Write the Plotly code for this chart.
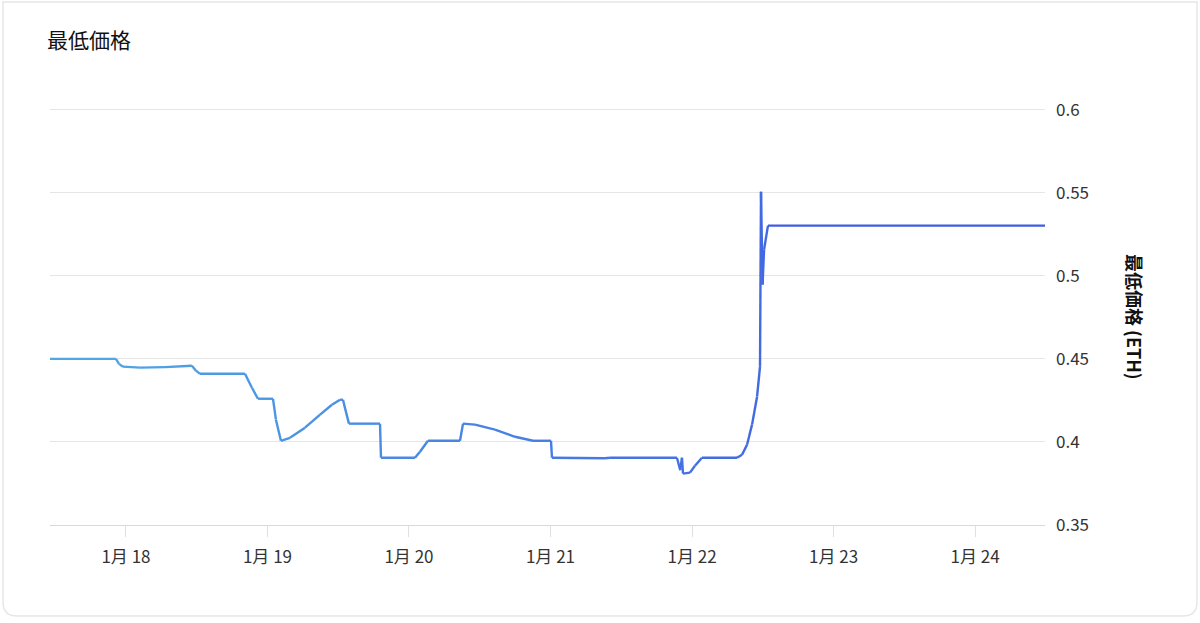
import plotly.graph_objects as go
import pandas as pd

# floor price readings (ETH)
times = [
    "2022-01-17 11:07", "2022-01-17 22:18", "2022-01-17 22:49", "2022-01-17 23:29",
    "2022-01-18 02:22", "2022-01-18 06:37", "2022-01-18 11:11", "2022-01-18 11:52",
    "2022-01-18 12:33", "2022-01-18 20:11", "2022-01-18 21:22", "2022-01-18 22:23",
    "2022-01-19 00:56", "2022-01-19 01:26", "2022-01-19 02:17", "2022-01-19 03:49",
    "2022-01-19 06:22", "2022-01-19 08:55", "2022-01-19 10:56", "2022-01-19 12:18",
    "2022-01-19 12:48", "2022-01-19 13:49", "2022-01-19 19:05", "2022-01-19 19:15",
    "2022-01-20 01:01", "2022-01-20 01:52", "2022-01-20 03:13", "2022-01-20 08:39",
    "2022-01-20 09:10", "2022-01-20 11:12", "2022-01-20 14:35", "2022-01-20 17:59",
    "2022-01-20 21:02", "2022-01-21 00:05", "2022-01-21 00:15", "2022-01-21 09:15",
    "2022-01-21 10:05", "2022-01-21 21:27", "2022-01-21 22:00", "2022-01-21 22:18",
    "2022-01-21 22:28", "2022-01-21 23:40", "2022-01-22 00:30", "2022-01-22 01:41",
    "2022-01-22 07:38", "2022-01-22 08:29", "2022-01-22 09:20", "2022-01-22 10:11",
    "2022-01-22 11:02", "2022-01-22 11:32", "2022-01-22 11:42", "2022-01-22 11:58",
    "2022-01-22 12:13", "2022-01-22 12:53", "2022-01-24 11:52",
]
prices = [
    0.450, 0.450, 0.447, 0.4453,
    0.4447, 0.4450, 0.4459, 0.4429,
    0.441, 0.441, 0.4326, 0.426,
    0.426, 0.4134, 0.4007, 0.4025,
    0.4086, 0.4164, 0.4224, 0.4254,
    0.4254, 0.411, 0.411, 0.3905,
    0.3905, 0.3941, 0.4007, 0.4007,
    0.411, 0.4104, 0.4074, 0.4031,
    0.4007, 0.4007, 0.3905, 0.3902,
    0.3905, 0.3905, 0.383, 0.3905,
    0.3809, 0.3815, 0.3857, 0.3905,
    0.3905, 0.3923, 0.3983, 0.4104,
    0.4272, 0.4453, 0.5506, 0.4947,
    0.5157, 0.5302, 0.5302,
]
x_range = ["2022-01-17 11:07", "2022-01-24 11:52"]
y_range = [0.35, 0.601]
y_ticks = [0.35, 0.4, 0.45, 0.5, 0.55, 0.6]

FONT = "Noto Sans CJK JP"
left_rgb = (80, 170, 228)
right_rgb = (61, 80, 224)

df = pd.DataFrame({"t": pd.to_datetime(times), "p": prices})
t0 = pd.Timestamp(x_range[0])
t1 = pd.Timestamp(x_range[1])

fig = go.Figure()

# gradient line: one short trace per segment, coloured by position along x
for i in range(len(df) - 1):
    mid = df.t[i] + (df.t[i + 1] - df.t[i]) / 2
    f = (mid - t0) / (t1 - t0)
    c = tuple(round(a + (b - a) * f) for a, b in zip(left_rgb, right_rgb))
    fig.add_trace(go.Scatter(
        x=df.t[i:i + 2],
        y=df.p[i:i + 2],
        mode="lines",
        line=dict(color="rgb(%d,%d,%d)" % c, width=2.4),
        showlegend=False,
        hoverinfo="skip",
    ))

# plot area in screen pixels
L, R, T, B = 50, 1045, 108, 525


def px(x):
    return (x - L) / (R - L)


def py(y):
    return (B - y) / (B - T)


# card outline, rounded at the bottom only
r = 14
card = "M %f,%f L %f,%f Q %f,%f %f,%f L %f,%f Q %f,%f %f,%f L %f,%f Z" % (
    px(3), py(2), px(3), py(616 - r),
    px(3), py(616), px(3 + r), py(616),
    px(1197 - r), py(616),
    px(1197), py(616), px(1197), py(616 - r),
    px(1197), py(2),
)

fig.update_layout(
    width=1200,
    height=623,
    margin=dict(l=L, r=1200 - R, t=T, b=623 - B),
    plot_bgcolor="white",
    paper_bgcolor="white",
    font=dict(family=FONT, color="#333333", size=16),
    title=dict(
        text="最低価格",
        xref="container", yref="container",
        x=47 / 1200, xanchor="left",
        y=1 - 41 / 623, yanchor="middle",
        font=dict(family=FONT, size=21, color="#111111"),
    ),
    xaxis=dict(
        type="date",
        range=x_range,
        tick0="2022-01-18",
        dtick=86400000,
        tickformat="%-m月 %d",
        showgrid=False,
        zeroline=False,
        showline=True,
        linecolor="#d9d9d9",
        linewidth=1,
        ticks="outside",
        ticklen=11,
        tickcolor="#e0e0e0",
        ticklabelstandoff=6,
        tickfont=dict(size=17, color="#333333"),
    ),
    yaxis=dict(
        side="right",
        range=y_range,
        tickvals=y_ticks,
        ticktext=[("%g" % v) for v in y_ticks],
        showgrid=True,
        gridcolor="#e6e6e6",
        gridwidth=1,
        zeroline=False,
        showline=False,
        ticks="",
        ticklabelstandoff=10,
        tickfont=dict(size=17, color="#333333"),
    ),
    shapes=[dict(
        type="path", xref="paper", yref="paper", path=card,
        line=dict(color="#e6e6e6", width=1.5),
        fillcolor="rgba(0,0,0,0)", layer="below",
    )],
    annotations=[dict(
        text="最低価格 (ETH)",
        xref="paper", yref="paper",
        x=px(1135), y=py(317),
        xanchor="center", yanchor="middle",
        textangle=90,
        showarrow=False,
        font=dict(family=FONT, size=18, color="#111111", weight=600),
    )],
)

# drop the browser's default body margin so the figure sits at 0,0
fig.write_html(
    "out.html",
    config={"displayModeBar": False},
    post_script="document.body.style.margin='0';",
)
